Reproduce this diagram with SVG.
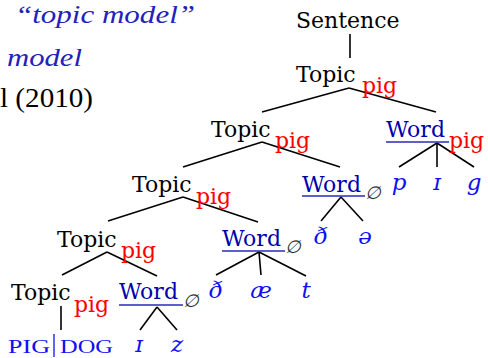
<svg xmlns="http://www.w3.org/2000/svg" width="488" height="358" viewBox="0 0 488 358">
<style>
.t{font-family:"DejaVu Serif","Liberation Serif",serif;font-size:22px;fill:#000}
.s{font-family:"DejaVu Serif","Liberation Serif",serif;font-size:22px;fill:#ff0000}
.w{font-family:"DejaVu Serif","Liberation Serif",serif;font-size:22px;fill:#0000aa}
.e{font-family:"DejaVu Serif","Liberation Serif",serif;font-style:italic;font-size:18px;fill:#333}
.ph{font-family:"DejaVu Serif","Liberation Serif",serif;font-style:italic;font-size:23px;fill:#1010f0;text-anchor:middle}
.sc{font-family:"Liberation Serif",serif;font-size:19px;fill:#1010f0}
.hd{font-family:"Liberation Serif",serif;font-style:italic;font-size:26px;fill:#2222bb}
.ul{stroke:#2a2ab8;stroke-width:1.5}
#edges line{stroke:#000;stroke-width:1.6}
</style>
<g id="heading">
<text class="hd" x="15" y="23" textLength="180" lengthAdjust="spacingAndGlyphs">“topic model”</text>
<text class="hd" x="7" y="66" textLength="75" lengthAdjust="spacingAndGlyphs">model</text>
<text x="0" y="107" textLength="93" lengthAdjust="spacingAndGlyphs" style="font-family:'Liberation Serif',serif;font-size:27px;fill:#000">l (2010)</text>
</g>
<g id="edges">
<line x1="350" y1="34" x2="350" y2="58"/>
<line x1="349" y1="88" x2="262" y2="112"/>
<line x1="349" y1="88" x2="436" y2="112"/>
<line x1="262" y1="142" x2="183" y2="167"/>
<line x1="262" y1="142" x2="340" y2="167"/>
<line x1="183" y1="197" x2="108" y2="221"/>
<line x1="183" y1="197" x2="258" y2="222"/>
<line x1="107" y1="252" x2="62" y2="275"/>
<line x1="107" y1="252" x2="157" y2="276"/>
<line x1="61" y1="306" x2="61" y2="330"/>
<line x1="437" y1="143" x2="399" y2="167"/>
<line x1="437" y1="143" x2="437" y2="167"/>
<line x1="437" y1="143" x2="474" y2="167"/>
<line x1="341" y1="197" x2="321" y2="221"/>
<line x1="341" y1="197" x2="363" y2="221"/>
<line x1="259" y1="252" x2="216" y2="275"/>
<line x1="259" y1="252" x2="261" y2="275"/>
<line x1="259" y1="252" x2="306" y2="276"/>
<line x1="157" y1="307" x2="140" y2="330"/>
<line x1="157" y1="307" x2="177" y2="330"/>
</g>
<g id="sentence"><text class="t" x="296" y="28">Sentence</text></g>
<g id="topic1"><text class="t" x="296" y="82">Topic</text><text class="s" x="362" y="93">pig</text></g>
<g id="topic2"><text class="t" x="211" y="137">Topic</text><text class="s" x="275" y="148">pig</text></g>
<g id="topic3"><text class="t" x="132" y="192">Topic</text><text class="s" x="196" y="204">pig</text></g>
<g id="topic4"><text class="t" x="57" y="247">Topic</text><text class="s" x="121" y="258">pig</text></g>
<g id="topic5"><text class="t" x="11" y="300">Topic</text><text class="s" x="74" y="312">pig</text></g>
<g id="word-pig">
<text class="w" x="386" y="137">Word</text><line class="ul" x1="386" y1="142" x2="449" y2="142"/>
<text class="s" x="449" y="148">pig</text>
<text class="ph" x="399" y="190">p</text><text class="ph" x="437" y="190">ɪ</text><text class="ph" x="474" y="190">g</text>
</g>
<g id="word-the">
<text class="w" x="302" y="192">Word</text><line class="ul" x1="302" y1="196" x2="365" y2="196"/>
<text class="e" x="365" y="199">∅</text>
<text class="ph" x="321" y="244">ð</text><text class="ph" x="365" y="244">ə</text>
</g>
<g id="word-that">
<text class="w" x="222" y="246">Word</text><line class="ul" x1="222" y1="251" x2="285" y2="251"/>
<text class="e" x="285" y="253">∅</text>
<text class="ph" x="216" y="298">ð</text><text class="ph" x="261" y="298">æ</text><text class="ph" x="306" y="298">t</text>
</g>
<g id="word-is">
<text class="w" x="119" y="299">Word</text><line class="ul" x1="119" y1="305" x2="183" y2="305"/>
<text class="e" x="183" y="307">∅</text>
<text class="ph" x="139" y="352">ɪ</text><text class="ph" x="177" y="352">z</text>
</g>
<g id="pigdog">
<text class="sc" x="8" y="353" textLength="42" lengthAdjust="spacingAndGlyphs">PIG</text>
<line x1="54" y1="334" x2="54" y2="357" stroke="#1010f0" stroke-width="1.3"/>
<text class="sc" x="60" y="353" textLength="53" lengthAdjust="spacingAndGlyphs">DOG</text>
</g>
</svg>
